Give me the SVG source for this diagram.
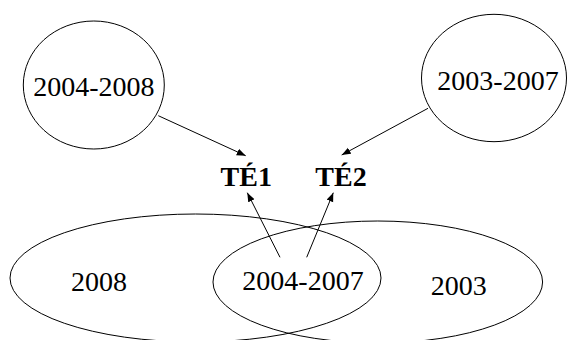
<svg xmlns="http://www.w3.org/2000/svg" width="567" height="340" viewBox="0 0 567 340">
<style>
.shape{fill:none;stroke:#000;stroke-width:1}
.lbl{font-family:"Liberation Serif","Times New Roman",serif;font-size:28px;fill:#000;text-anchor:middle}
.te{font-family:"Liberation Serif","Times New Roman",serif;font-size:28px;font-weight:bold;fill:#000;text-anchor:middle}
.conn{fill:none;stroke:#000;stroke-width:1}
</style>
<defs>
<marker id="ah" markerUnits="userSpaceOnUse" markerWidth="10" markerHeight="8" refX="9" refY="3.5" orient="auto">
<path d="M0,0 L9,3.5 L0,7 z" fill="#000"/>
</marker>
</defs>
<rect width="567" height="340" fill="#fff"/>
<g id="node-2004-2008">
<ellipse class="shape" cx="93.8" cy="85" rx="70.5" ry="64"/>
<text class="lbl" x="93.8" y="96">2004-2008</text>
</g>
<g id="node-2003-2007">
<ellipse class="shape" cx="494" cy="78" rx="72.5" ry="63.7"/>
<text class="lbl" x="498" y="90">2003-2007</text>
</g>
<g id="node-TE1">
<text class="te" x="246.3" y="186">TÉ1</text>
</g>
<g id="node-TE2">
<text class="te" x="341" y="186">TÉ2</text>
</g>
<g id="node-2008">
<ellipse class="shape" cx="195.5" cy="278" rx="185.5" ry="64"/>
<text class="lbl" x="99" y="290.5">2008</text>
</g>
<g id="node-2003">
<ellipse class="shape" cx="377.8" cy="282" rx="164.8" ry="61"/>
<text class="lbl" x="458.7" y="295">2003</text>
</g>
<g id="node-2004-2007">
<text class="lbl" x="303" y="290">2004-2007</text>
</g>
<g id="connectors">
<line class="conn" x1="158.3" y1="115.7" x2="245.7" y2="155.7" marker-end="url(#ah)"/>
<line class="conn" x1="428" y1="108.3" x2="341.7" y2="155" marker-end="url(#ah)"/>
<line class="conn" x1="280" y1="257.3" x2="247.3" y2="192.7" marker-end="url(#ah)"/>
<line class="conn" x1="306.7" y1="257.3" x2="333.3" y2="192.7" marker-end="url(#ah)"/>
</g>
</svg>
